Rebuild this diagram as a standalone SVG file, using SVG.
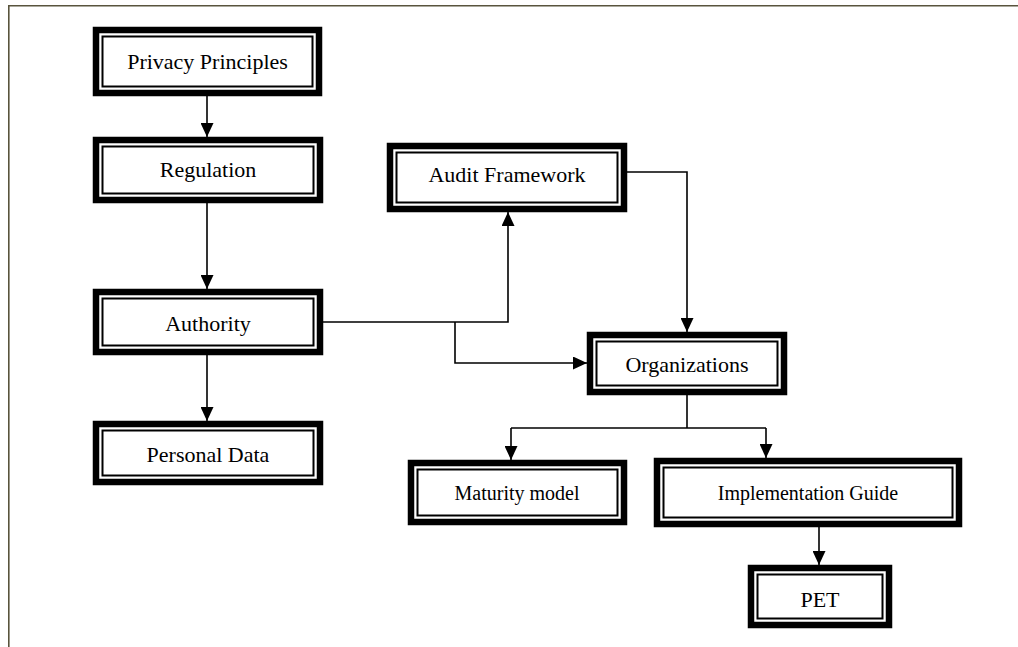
<svg xmlns="http://www.w3.org/2000/svg" width="1018" height="647" viewBox="0 0 1018 647">
  <style>
    .outer { fill: #fff; stroke: #000; stroke-width: 6.5; }
    .inner { fill: none; stroke: #000; stroke-width: 2; }
    .label { font-family: "Liberation Serif", "Times New Roman", serif; font-size: 22px; fill: #000; text-anchor: middle; }
    .small { font-size: 20px; }
    .link { fill: none; stroke: #000; stroke-width: 1.6; }
    .frame { fill: none; stroke: #59543d; stroke-width: 1.6; }
  </style>
  <defs>
    <marker id="arrow" viewBox="0 0 14 13" refX="14" refY="6.5" markerWidth="14" markerHeight="13" markerUnits="userSpaceOnUse" orient="auto">
      <path d="M0,0 L14,6.5 L0,13 Z" fill="#000"/>
    </marker>
  </defs>

  <rect width="1018" height="647" fill="#fff"/>
  <!-- page frame: top and left edges only -->
  <path class="frame" d="M8.8,647 L8.8,5.8 L1018,5.8"/>

  <g id="connectors">
    <path class="link" d="M207,96 L207,137" marker-end="url(#arrow)"/>
    <path class="link" d="M207,203 L207,289" marker-end="url(#arrow)"/>
    <path class="link" d="M207,355 L207,421" marker-end="url(#arrow)"/>
    <path class="link" d="M323,322 L508,322 L508,212" marker-end="url(#arrow)"/>
    <path class="link" d="M455,322 L455,363 L587,363" marker-end="url(#arrow)"/>
    <path class="link" d="M627,172 L687,172 L687,332" marker-end="url(#arrow)"/>
    <path class="link" d="M687,395 L687,428"/>
    <path class="link" d="M511,428 L766,428"/>
    <path class="link" d="M511,428 L511,460" marker-end="url(#arrow)"/>
    <path class="link" d="M766,428 L766,458" marker-end="url(#arrow)"/>
    <path class="link" d="M819,527 L819,565" marker-end="url(#arrow)"/>
  </g>

  <g id="privacy-principles">
    <rect class="outer" x="96" y="30" width="223" height="63"/>
    <rect class="inner" x="102.5" y="36.5" width="210" height="50"/>
    <text class="label" x="207.5" y="69">Privacy Principles</text>
  </g>

  <g id="regulation">
    <rect class="outer" x="96" y="140" width="224" height="60"/>
    <rect class="inner" x="102.5" y="146.5" width="211" height="47"/>
    <text class="label" x="208" y="177">Regulation</text>
  </g>

  <g id="audit-framework">
    <rect class="outer" x="390" y="146" width="234" height="63"/>
    <rect class="inner" x="396.5" y="152.5" width="221" height="50"/>
    <text class="label" x="507" y="182">Audit Framework</text>
  </g>

  <g id="authority">
    <rect class="outer" x="96" y="292" width="224" height="60"/>
    <rect class="inner" x="102.5" y="298.5" width="211" height="47"/>
    <text class="label" x="208" y="331">Authority</text>
  </g>

  <g id="organizations">
    <rect class="outer" x="590" y="335" width="194" height="57"/>
    <rect class="inner" x="596.5" y="341.5" width="181" height="44"/>
    <text class="label" x="687" y="372">Organizations</text>
  </g>

  <g id="personal-data">
    <rect class="outer" x="96" y="424" width="224" height="58"/>
    <rect class="inner" x="102.5" y="430.5" width="211" height="45"/>
    <text class="label" x="208" y="462">Personal Data</text>
  </g>

  <g id="maturity-model">
    <rect class="outer" x="411" y="463" width="213" height="59"/>
    <rect class="inner" x="417.5" y="469.5" width="200" height="46"/>
    <text class="label small" x="517" y="500">Maturity model</text>
  </g>

  <g id="implementation-guide">
    <rect class="outer" x="657" y="461" width="302" height="63"/>
    <rect class="inner" x="663.5" y="467.5" width="289" height="50"/>
    <text class="label small" x="808" y="500">Implementation Guide</text>
  </g>

  <g id="pet">
    <rect class="outer" x="751" y="568" width="138" height="57"/>
    <rect class="inner" x="757.5" y="574.5" width="125" height="44"/>
    <text class="label" x="820" y="607">PET</text>
  </g>
</svg>
